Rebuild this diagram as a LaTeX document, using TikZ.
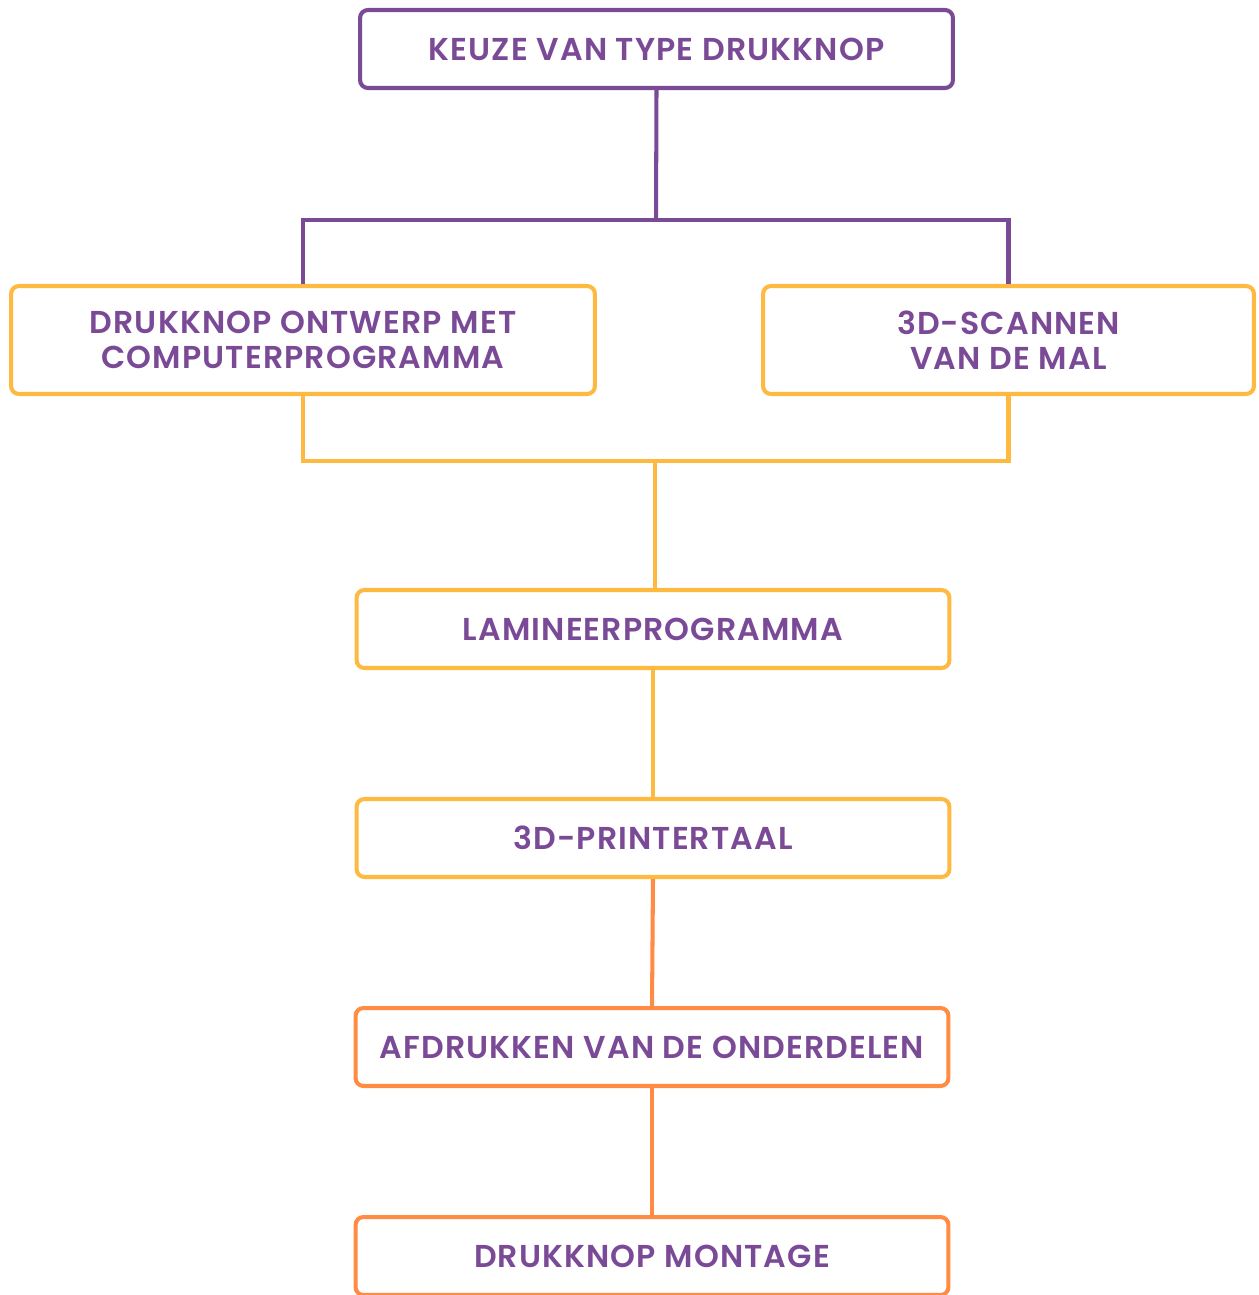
\documentclass[tikz,border=0pt]{standalone}
\usepackage{fontspec}
\setmainfont{Poppins}[BoldFont={Poppins SemiBold}, LetterSpace=3.5]
\usepackage{xcolor}
\usetikzlibrary{positioning}

\definecolor{paars}{HTML}{7B4A97}
\definecolor{geel}{HTML}{FDB940}
\definecolor{oranje}{HTML}{FF8C42}

\tikzset{
	stap/.style={draw, rounded corners=4.5pt, line width=2.3pt, fill=white,
		text=paars, align=center, inner sep=0pt,
		font=\fontsize{18}{19.8}\selectfont\bfseries},
	lijn/.style={line width=2.3pt}
}

\begin{document}
\begin{tikzpicture} [x=0.02cm, y=-0.02cm]
		\useasboundingbox (0, 0) rectangle (1258, 1295);
		\node[stap, draw=paars, minimum width=11.86cm, minimum height=1.56cm] (keuze) at (656.5, 49) {KEUZE VAN TYPE DRUKKNOP};
		\node[stap, draw=geel, minimum width=11.68cm, minimum height=2.16cm] (ontwerp) at (303, 340) {DRUKKNOP ONTWERP MET\\COMPUTERPROGRAMMA};
		\node[stap, draw=geel, minimum width=9.82cm, minimum height=2.16cm] (scan) at (1008.5, 340) {3D-SCANNEN\\VAN DE MAL};
		\node[stap, draw=geel, minimum width=11.86cm, minimum height=1.56cm] (lamin) at (653, 629) {LAMINEERPROGRAMMA};
		\node[stap, draw=geel, minimum width=11.86cm, minimum height=1.56cm] (printer) at (653, 838) {3D-PRINTERTAAL};
		\node[stap, draw=oranje, minimum width=11.86cm, minimum height=1.56cm] (afdruk) at (652, 1047) {AFDRUKKEN VAN DE ONDERDELEN};
		\node[stap, draw=oranje, minimum width=11.86cm, minimum height=1.56cm] (montage) at (652, 1256) {DRUKKNOP MONTAGE};
		\coordinate (splits) at (656, 220);
		\coordinate (samen) at (655, 461);
	% purple split
		\draw[lijn, paars] (keuze.south) -- (splits);
		\draw[lijn, paars] (splits) -| (ontwerp.north);
		\draw[lijn, paars] (splits) -| (scan.north);
	% yellow merge
		\draw[lijn, geel] (ontwerp.south) |- (samen);
		\draw[lijn, geel] (scan.south) |- (samen);
		\draw[lijn, geel] (samen) -- (samen |- lamin.north);
		\draw[lijn, geel] (lamin.south) -- (printer.north);
	% orange
		\draw[lijn, oranje] (printer.south) -- (afdruk.north);
		\draw[lijn, oranje] (afdruk.south) -- (montage.north);
\end{tikzpicture}
\end{document}
